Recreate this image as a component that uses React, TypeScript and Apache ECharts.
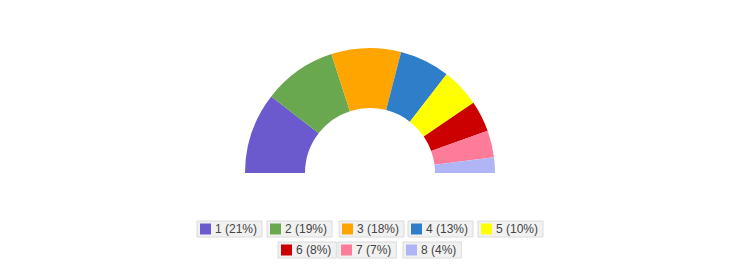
import React, { useEffect, useRef } from "react";
import * as echarts from "echarts";

const categories = ["1", "2", "3", "4", "5", "6", "7", "8"];
const values = [21, 19, 18, 13, 10, 8, 7, 4];
const colors = ["#6a5acd", "#6aa84f", "#ffa500", "#2e7ec9", "#ffff00", "#cc0000", "#ff7b9a", "#b0b5f6"];

// legend layout (positions only)
const legendPos: [number, number][] = [
  [197, 221], [267, 221], [339, 221], [408, 221], [478, 221],
  [278, 242], [338, 242], [403, 242],
];

export default function App() {
  const ref = useRef<HTMLDivElement>(null);
  useEffect(() => {
    document.body.style.margin = "0";
    const chart = echarts.init(ref.current!, null, { renderer: "svg" });
    const total = values.reduce((a, b) => a + b, 0);
    const data = categories.map((c, i) => ({ name: c, value: values[i], itemStyle: { color: colors[i] } }));
    const legends = categories.map((c, i) => ({
      data: [c],
      left: legendPos[i][0],
      top: legendPos[i][1],
      orient: "horizontal",
      itemWidth: 11,
      itemHeight: 11,
      itemGap: 0,
      icon: "rect",
      padding: [1, 5, 1, 3],
      backgroundColor: "#f1f1f1",
      borderColor: "#dcdcdc",
      borderWidth: 1,
      borderRadius: 0,
      selectedMode: false,
      formatter: (name: string) => {
        const idx = categories.indexOf(name);
        return `${name} (${Math.round((values[idx] / total) * 100)}%)`;
      },
      textStyle: { fontFamily: "Liberation Sans, Arial, sans-serif", fontSize: 12, color: "#444", lineHeight: 14, padding: [0, 0, 0, -1] },
    }));
    chart.setOption({
      animation: false,
      color: colors,
      legend: legends,
      series: [
        {
          type: "pie",
          center: [370, 173],
          radius: [65, 125],
          startAngle: 180,
          endAngle: 0,
          clockwise: true,
          label: { show: false },
          labelLine: { show: false },
          emphasis: { disabled: true },
          itemStyle: { borderWidth: 0 },
          data,
        },
      ],
    });
    return () => chart.dispose();
  }, []);
  return <div ref={ref} style={{ width: 737, height: 280 }} />;
}
